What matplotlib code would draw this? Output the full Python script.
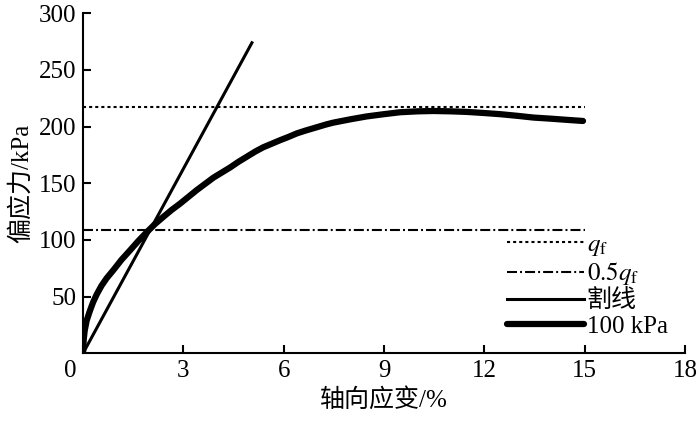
import matplotlib

matplotlib.use("Agg")
import matplotlib.pyplot as plt
import matplotlib.transforms as mtransforms

# stress-strain curve (axial strain %, deviator stress kPa)
strain = [0.0, 0.02, 0.05, 0.11, 0.2, 0.3, 0.41, 0.55, 0.7, 0.91, 1.15, 1.41,
          1.65, 1.91, 2.15, 2.41, 2.65, 2.9, 3.15, 3.4, 3.65, 3.9, 4.15, 4.4,
          4.65, 4.9, 5.15, 5.39, 5.65, 5.89, 6.15, 6.39, 6.65, 6.88, 7.28,
          7.48, 8.0, 8.48, 9.0, 9.48, 10.0, 10.48, 11.0, 11.47, 12.0, 12.47,
          13.0, 13.47, 14.0, 14.46, 14.95]
stress = [0.0, 12.0, 20.0, 29.0, 37.0, 45.0, 52.0, 59.5, 66.0, 73.5, 82.5, 91.0,
          99.0, 107.0, 114.0, 120.6, 126.5, 132.0, 138.0, 144.0, 149.5, 155.0,
          159.5, 164.0, 169.0, 173.5, 178.0, 181.8, 185.0, 188.0, 191.0, 194.0,
          196.5, 198.5, 202.0, 203.5, 206.5, 209.0, 211.0, 212.7, 213.5, 213.8,
          213.5, 213.0, 212.0, 211.0, 209.5, 208.0, 207.0, 206.0, 205.0]

q_f = 217.0
half_q_f = 108.5
line_end = 15.0

secant_strain = [0.0, 5.05]
secant_stress = [0.0, 274.0]

x_ticks = [0, 3, 6, 9, 12, 15, 18]
y_ticks = [50, 100, 150, 200, 250, 300]

plt.rcParams["font.family"] = ["Liberation Serif", "Noto Sans CJK SC"]
plt.rcParams["mathtext.fontset"] = "stix"
plt.rcParams["lines.scale_dashes"] = False

fig = plt.figure(figsize=(7, 4.25), dpi=100)
ax = fig.add_axes([0.1186, 0.1687, 0.86, 0.80])

ax.plot([0, line_end], [q_f, q_f], color="black", lw=1.5,
        dashes=(2.2, 2.2), label=r"$q_\mathrm{f}$")
ax.plot([0, line_end], [half_q_f, half_q_f], color="black", lw=1.5,
        dashes=(7.2, 2.2, 1.4, 2.2), label=r"$0.5q_\mathrm{f}$")
ax.plot(secant_strain, secant_stress, color="black", lw=2.2, label="割线")
ax.plot(strain, stress, color="black", lw=4.5, solid_capstyle="round",
        solid_joinstyle="round", label="100 kPa")

ax.set_xlim(0, 18)
ax.set_ylim(0, 300)
ax.set_xticks(x_ticks)
ax.set_yticks(y_ticks)
ax.tick_params(direction="in", length=6, width=1.5, labelsize=18, pad=5)
for side in ["top", "right"]:
    ax.spines[side].set_visible(False)
for side in ["left", "bottom"]:
    ax.spines[side].set_linewidth(1.5)

# origin label sits a little left of the axis
lbl0 = ax.get_xticklabels()[0]
lbl0.set_transform(lbl0.get_transform()
                   + mtransforms.ScaledTranslation(-0.13, 0, fig.dpi_scale_trans))

ax.set_xlabel("轴向应变/%", fontsize=18, labelpad=4)
ax.set_ylabel("偏应力/kPa", fontsize=18, labelpad=4)

leg = ax.legend(loc="lower left", bbox_to_anchor=(0.704, 0.045), frameon=False,
                fontsize=18, handlelength=3.1, handletextpad=0.1,
                labelspacing=0.1, borderaxespad=0.0, borderpad=0.0)

fig.savefig("out.png", dpi=100)
